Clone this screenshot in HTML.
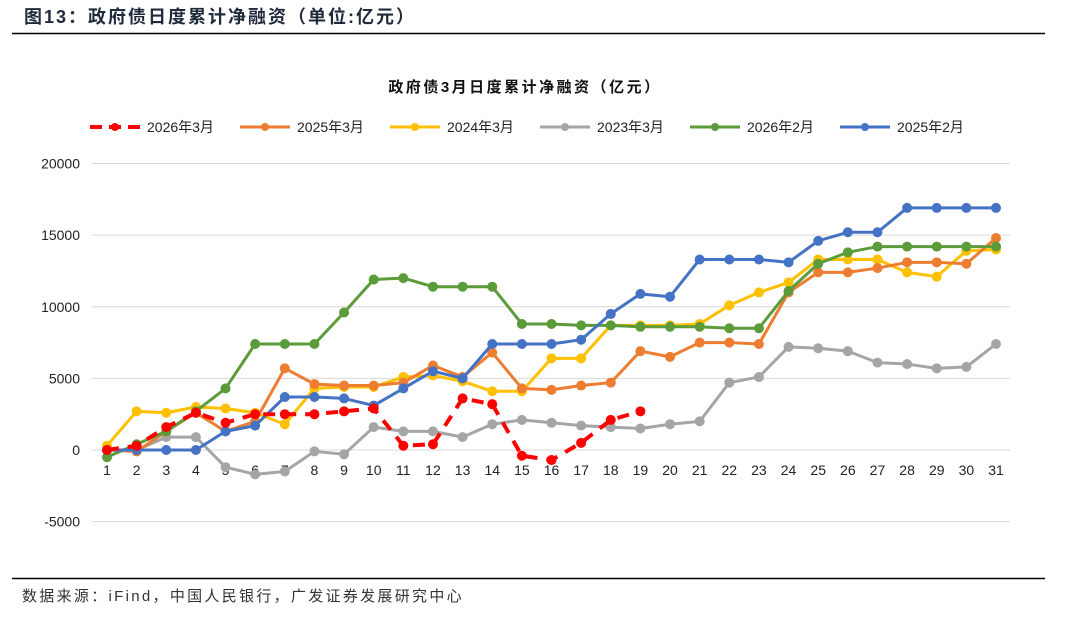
<!DOCTYPE html>
<html><head><meta charset="utf-8"><style>
body{margin:0;background:#fff;}
svg text{font-family:"Liberation Sans","Noto Sans CJK SC",sans-serif;}
</style></head><body>
<svg id="chart" width="1080" height="615" viewBox="0 0 1080 615" xmlns="http://www.w3.org/2000/svg">
<text x="24" y="23" font-size="18" font-weight="bold" letter-spacing="2" fill="#1f2a3a">图13：政府债日度累计净融资（单位:亿元）</text>
<line x1="12" y1="33.5" x2="1045" y2="33.5" stroke="#000" stroke-width="1.5"/>
<text x="525" y="92" font-size="15" font-weight="bold" letter-spacing="2.5" text-anchor="middle" fill="#111">政府债3月日度累计净融资（亿元）</text>
<g id="grid"></g><g id="series"></g><g id="legend"></g>
<line x1="12" y1="578.5" x2="1045" y2="578.5" stroke="#000" stroke-width="1.5"/>
<text x="22" y="601" font-size="15" letter-spacing="2.3" fill="#333">数据来源：iFind，中国人民银行，广发证券发展研究中心</text>
</svg>
<script>
const days=[1,2,3,4,5,6,7,8,9,10,11,12,13,14,15,16,17,18,19,20,21,22,23,24,25,26,27,28,29,30,31];
const yTicks=[-5000,0,5000,10000,15000,20000];
const seriesNames=["2026年3月","2025年3月","2024年3月","2023年3月","2026年2月","2025年2月"];
const s2026m3=[0,300,1600,2600,1900,2500,2500,2500,2700,2900,300,400,3600,3200,-400,-700,500,2100,2700];
const s2025m3=[0,-100,1300,2600,1300,2000,5700,4600,4500,4500,4700,5900,5100,6800,4300,4200,4500,4700,6900,6500,7500,7500,7400,11000,12400,12400,12700,13100,13100,13000,14800];
const s2024m3=[300,2700,2600,3000,2900,2600,1800,4300,4400,4400,5100,5200,4800,4100,4100,6400,6400,8700,8700,8700,8800,10100,11000,11700,13300,13300,13300,12400,12100,13900,14000];
const s2023m3=[0,0,900,900,-1200,-1700,-1500,-100,-300,1600,1300,1300,900,1800,2100,1900,1700,1600,1500,1800,2000,4700,5100,7200,7100,6900,6100,6000,5700,5800,7400];
const s2026m2=[-500,400,1300,2700,4300,7400,7400,7400,9600,11900,12000,11400,11400,11400,8800,8800,8700,8700,8600,8600,8600,8500,8500,11100,13000,13800,14200,14200,14200,14200,14200];
const s2025m2=[0,0,0,0,1300,1700,3700,3700,3600,3100,4300,5500,5000,7400,7400,7400,7700,9500,10900,10700,13300,13300,13300,13100,14600,15200,15200,16900,16900,16900,16900];
const NS="http://www.w3.org/2000/svg";
const x=d=>107+(d-1)*(996-107)/30;
const y=v=>450-v*(450-163.5)/20000;
function mk(tag,attrs,parent){const e=document.createElementNS(NS,tag);for(const k in attrs)e.setAttribute(k,attrs[k]);parent.appendChild(e);return e;}
const grid=document.getElementById('grid');
yTicks.forEach(t=>{
  const l=mk('line',{x1:92,x2:1010,y1:y(t),y2:y(t),stroke:'#d9d9d9','stroke-width':1},grid);
  
  
  const tx=mk('text',{x:80,y:y(t)+5,'font-size':14,'text-anchor':'end',fill:'#222'},grid);
  tx.textContent=t;
  
  
});
days.forEach(d=>{
  const tx=mk('text',{x:x(d),y:475,'font-size':14,'text-anchor':'middle',fill:'#222'},grid);
  tx.textContent=d;
  
  
});
const order=[[s2023m3,'#a5a5a5',3,false],[s2024m3,'#ffc000',2,false],[s2025m3,'#ed7d31',1,false],[s2026m2,'#5b9b3a',4,false],[s2025m2,'#4472c4',5,false],[s2026m3,'#ff0000',0,true]];
const sg=document.getElementById('series');
order.forEach(([vals,col,idx,dash])=>{
  const g=mk('g',{},sg);
  
  
  const pts=vals.map((v,i)=>x(days[i])+','+y(v)).join(' ');
  const pl=mk('polyline',{points:pts,fill:'none',stroke:col,'stroke-width':dash?4:3,'stroke-linejoin':'round'},g);
  if(dash){pl.setAttribute('stroke-dasharray','12,9');}
  
  
  vals.forEach((v,i)=>{
    const c=mk('circle',{cx:x(days[i]),cy:y(v),r:5,fill:col},g);
    
    
  });
});
const legCols=['#ff0000','#ed7d31','#ffc000','#a5a5a5','#5b9b3a','#4472c4'];
const legX=[90,240,390,540,690,840];
const lg=document.getElementById('legend');
seriesNames.forEach((n,i)=>{
  const g=mk('g',{},lg);
  
  
  const l=mk('line',{x1:legX[i],x2:legX[i]+50,y1:127,y2:127,stroke:legCols[i],'stroke-width':i===0?4:3},g);
  if(i===0)l.setAttribute('stroke-dasharray','12,7');
  mk('circle',{cx:legX[i]+25,cy:127,r:4,fill:legCols[i]},g);
  const t=mk('text',{x:legX[i]+57,y:132,'font-size':14,fill:'#222'},g);
  t.textContent=n;
});
</script>
</body></html>
